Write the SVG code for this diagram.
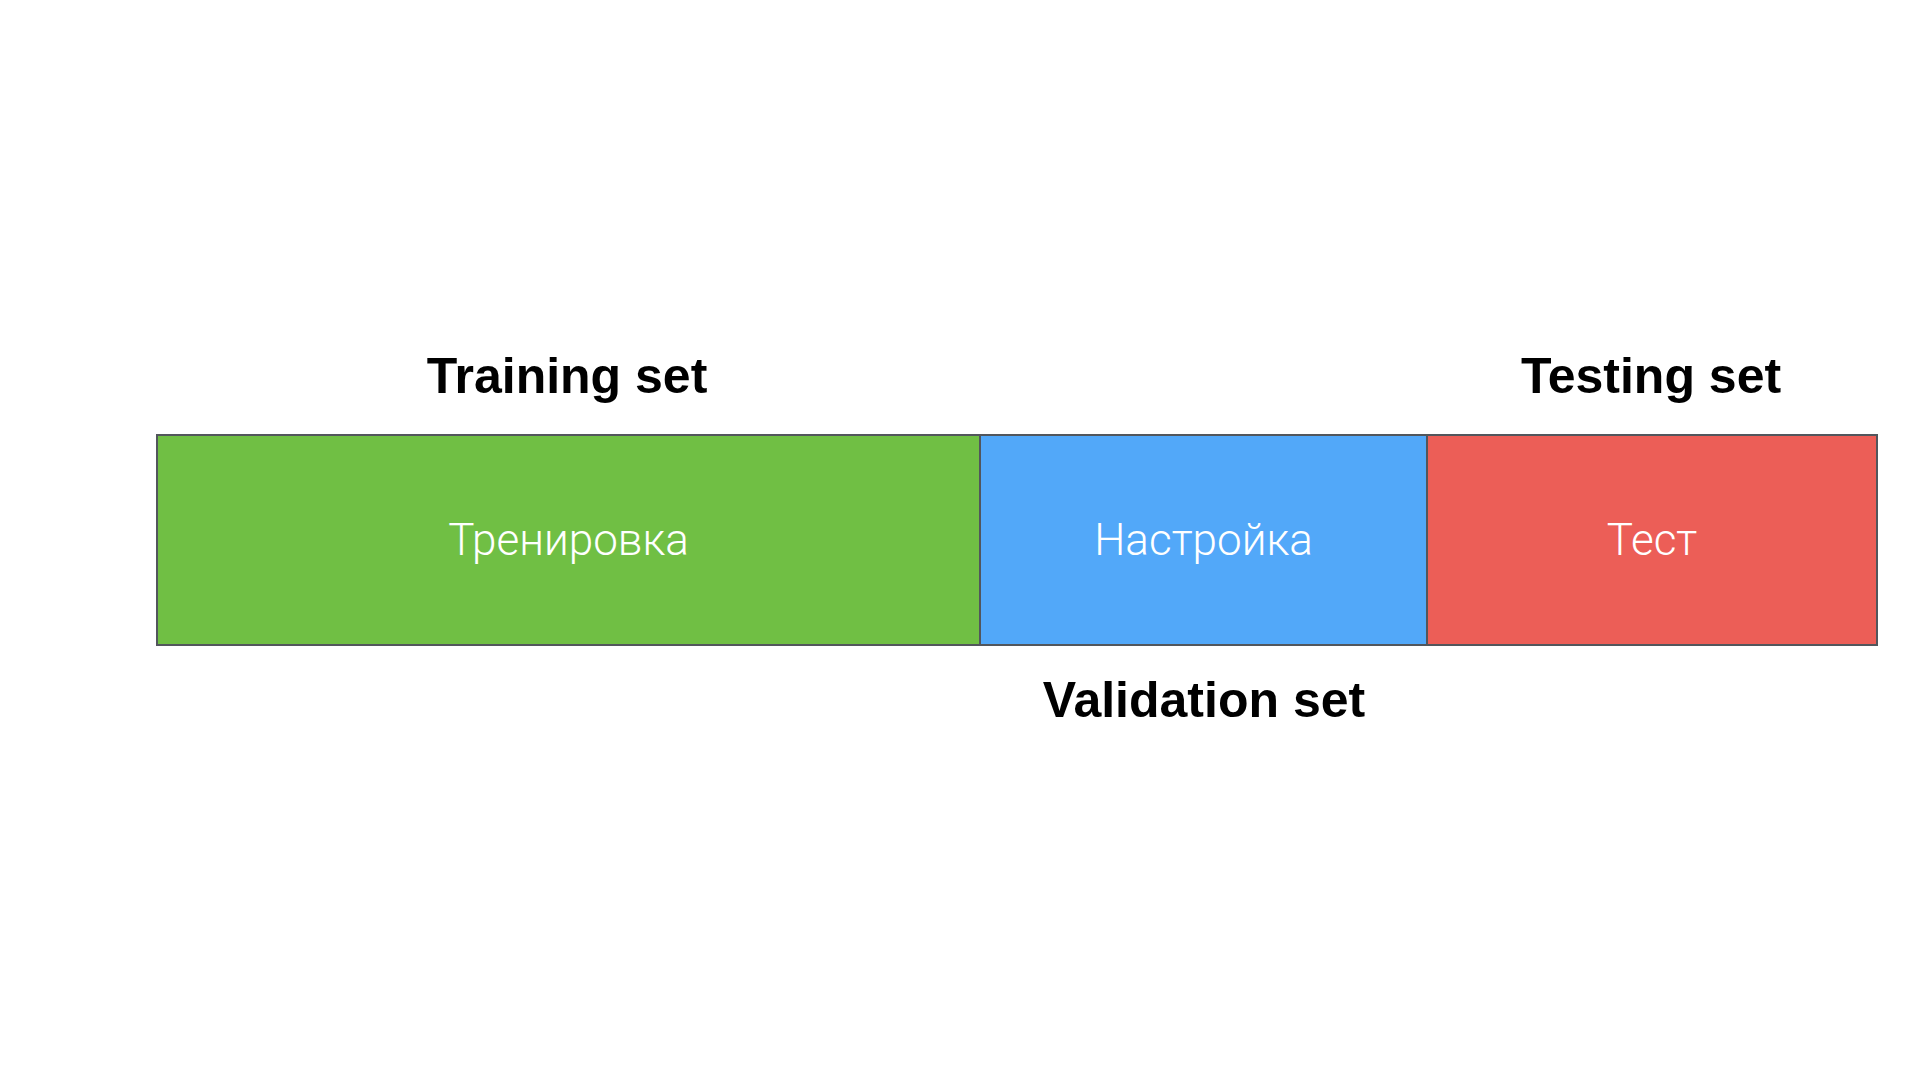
<svg xmlns="http://www.w3.org/2000/svg" width="1920" height="1080" viewBox="0 0 1920 1080">
<style>
.seg{stroke:#52565c;stroke-width:2}
.lbl{font-family:"Liberation Sans",Arial,sans-serif;font-weight:bold;font-size:50px;fill:#000;text-anchor:middle}
.in{font-family:Roboto,Inter,"Liberation Sans",sans-serif;font-weight:300;font-size:44px;fill:#fff;text-anchor:middle}
</style>
<rect width="1920" height="1080" fill="#fff"/>
<g id="training">
<rect class="seg" x="157" y="435" width="823" height="210" fill="#70bf44"/>
<text class="in" x="568.5" y="555">Тренировка</text>
<text class="lbl" x="567" y="393">Training set</text>
</g>
<g id="validation">
<rect class="seg" x="980" y="435" width="447" height="210" fill="#52a8f9"/>
<text class="in" x="1203.5" y="555">Настройка</text>
<text class="lbl" x="1204" y="717">Validation set</text>
</g>
<g id="testing">
<rect class="seg" x="1427" y="435" width="450" height="210" fill="#ec5e57"/>
<text class="in" x="1652" y="555">Тест</text>
<text class="lbl" x="1651" y="393">Testing set</text>
</g>
<g id="connectors"></g>
</svg>
